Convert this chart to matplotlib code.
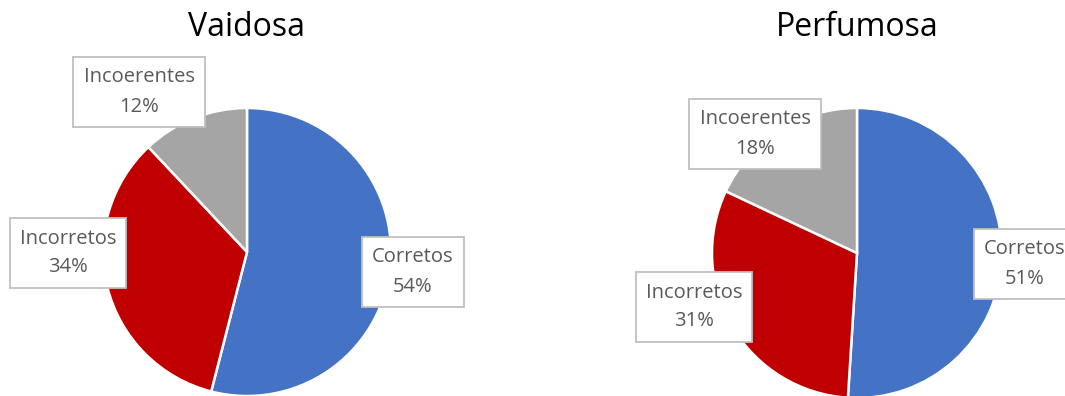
import matplotlib
matplotlib.use("Agg")
import matplotlib.pyplot as plt

categorias = ["Corretos", "Incorretos", "Incoerentes"]
vaidosa = [54, 34, 12]
perfumosa = [51, 31, 18]
titulos = ["Vaidosa", "Perfumosa"]
cores = ["#4472C4", "#C00000", "#A5A5A5"]

W, H = 1065, 396
fig = plt.figure(figsize=(W / 100, H / 100), dpi=100)
ax = fig.add_axes([0, 0, 1, 1])
ax.set_xlim(0, W)
ax.set_ylim(0, H)
ax.set_aspect("equal")
ax.axis("off")

fonte = "Open Sans"

# layout: pie center (px from top-left), radius, title x, label centers
layouts = [
    dict(c=(247, 252), r=144, tx=247,
         lab=[(413, 272), (68, 253), (139, 92)]),
    dict(c=(857, 253), r=145, tx=857,
         lab=[(1025, 264), (694, 307), (755, 134)]),
]

for vals, titulo, lay in zip([vaidosa, perfumosa], titulos, layouts):
    cx, cy = lay["c"]
    ax.pie(vals, colors=cores, startangle=90, counterclock=False,
           center=(cx, H - cy), radius=lay["r"], frame=True,
           wedgeprops=dict(edgecolor="white", linewidth=1.8))
    ax.text(lay["tx"], H - 27, titulo, ha="center", va="center",
            fontsize=23, family=fonte, color="black")
    for nome, v, (lx, ly) in zip(categorias, vals, lay["lab"]):
        ax.text(lx, H - ly, "%s\n%d%%" % (nome, v), ha="center", va="center",
                fontsize=14.5, family=fonte, color="#595959", linespacing=1.6,
                bbox=dict(boxstyle="square,pad=0.5", facecolor="white",
                          edgecolor="#BFBFBF", linewidth=1.3))

ax.set_xlim(0, W)
ax.set_ylim(0, H)
ax.axis("off")
fig.savefig("out.png", dpi=100)
